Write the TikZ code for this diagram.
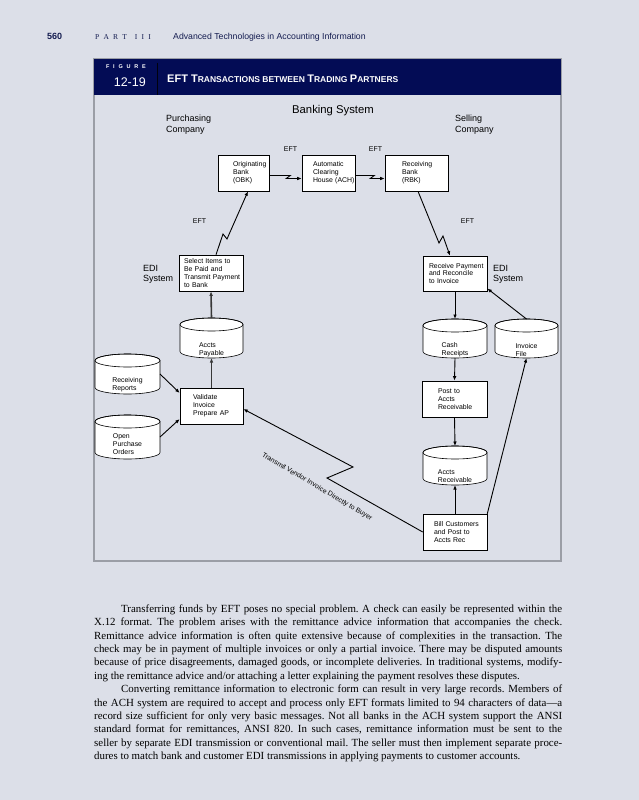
\documentclass[tikz,border=0pt]{standalone}
\usepackage{fontspec}
\setmainfont{Liberation Sans}
\newfontfamily\seriffont{Liberation Serif}
\usetikzlibrary{arrows.meta,calc}
\definecolor{pagebg}{RGB}{220,223,232}
\definecolor{navy}{RGB}{3,12,85}
\definecolor{hdrtext}{RGB}{20,28,80}
\definecolor{framegray}{RGB}{155,158,166}
\newcommand\hbig{\fontsize{11}{12}\selectfont}
\newcommand\hsmall{\fontsize{8.5}{10}\selectfont}
\newcommand\boxfont{\fontsize{6.9}{7.9}\selectfont\hyphenpenalty10000\relax\exhyphenpenalty10000\relax}
\newcommand\bodyfont{\seriffont\fontsize{10.9}{13.4}\selectfont\frenchspacing}
\newcommand\drawcyl[7]{%
  \pgfmathsetmacro\cylcx{(#2+#3)/2}%
  \pgfmathsetmacro\cylrx{(#3-#2)/2}%
  \path[cylline] (#2,#4+6.5) -- (#2,#5-6.5) arc[start angle=180,end angle=360,x radius=\cylrx pt,y radius=6.5pt] -- (#3,#4+6.5) arc[start angle=0,end angle=180,x radius=\cylrx pt,y radius=6.5pt] -- cycle;
  \draw[line width=0.6pt] (\cylcx,#4+6.5) ellipse[x radius=\cylrx pt,y radius=6.5pt];
  \coordinate (#1-t) at (\cylcx,#4);
  \coordinate (#1-b) at (\cylcx,#5);
  \coordinate (#1-r) at (#3,{(#4+#5)/2});
  \node[cyltext] (#1) at (\cylcx,#6) {#7};
}
\begin{document}
\begin{tikzpicture}[x=1pt,y=-1pt,
  box/.style={draw=black,line width=0.6pt,fill=white,inner sep=0pt,align=left,font=\boxfont},
  cyltext/.style={inner sep=0pt,align=left,font=\boxfont},
  cylline/.style={draw=black,line width=0.6pt,fill=white},
  conn/.style={draw=black,line width=0.9pt,-{Latex[length=4.5pt,width=3.6pt]}},
  thickconn/.style={conn,line width=1.6pt,draw=black!78},
  lbl/.style={inner sep=0pt,font=\fontsize{9}{10.5}\selectfont,align=left},
  eft/.style={inner sep=0pt,font=\fontsize{7}{8}\selectfont}]

\useasboundingbox (0,0) rectangle (639,800);
\fill[pagebg] (0,0) rectangle (639,800);

% page header
\node[hdrtext,inner sep=0pt,font=\bfseries\fontsize{9}{10}\selectfont,anchor=base west] (pnum) at (47,40) {560};
\node[hdrtext,inner sep=0pt,font=\seriffont\fontsize{7.5}{9}\selectfont,anchor=base west] (part) at (95,40) {P\kern4.2pt A\kern4.2pt R\kern4.2pt T\kern8pt I\kern4.2pt I\kern4.2pt I};
\node[hdrtext,inner sep=0pt,font=\fontsize{8.7}{10}\selectfont,anchor=base west] (chap) at (173,40) {Advanced Technologies in Accounting Information};

% figure frame
\draw[framegray,line width=1.4pt] (94,59) rectangle (561,561);
\fill[navy] (94,59) rectangle (561,94.5);
\draw[black!85!navy,line width=0.8pt] (157,63) -- (157,94.5);
\node[white,inner sep=0pt,font=\bfseries\fontsize{5.5}{6}\selectfont,anchor=base east] (figw) at (146,69) {F\kern3.8pt I\kern3.8pt G\kern3.8pt U\kern3.8pt R\kern3.8pt E};
\node[white,inner sep=0pt,font=\fontsize{12.5}{13}\selectfont,anchor=base east] (fignum) at (146,86) {12-19};
\node[white,inner sep=0pt,font=\bfseries,anchor=base west] (title) at (167,82) {\hbig EFT T\hsmall RANSACTIONS BETWEEN \hbig T\hsmall RADING \hbig P\hsmall ARTNERS};

% labels
\node[inner sep=0pt,font=\fontsize{11.3}{12}\selectfont] (bank) at (333,110.5) {Banking System};
\node[lbl,anchor=west] (pc) at (166,124.5) {Purchasing\\Company};
\node[lbl,anchor=west] (sc) at (455,124.5) {Selling\\Company};
\node[lbl,anchor=west] (edil) at (143,274.5) {EDI\\System};
\node[lbl,anchor=west] (edir) at (493,274.5) {EDI\\System};
\node[eft] (eft1) at (290.5,149) {EFT};
\node[eft] (eft2) at (375.5,149) {EFT};
\node[eft] (eft3) at (199.5,221.5) {EFT};
\node[eft] (eft4) at (467.5,221.5) {EFT};

% boxes
\node[box,minimum width=51pt,minimum height=36pt,text width=21pt] (obk) at (243.5,173) {Originating\\Bank\\(OBK)};
\node[box,minimum width=53pt,minimum height=36pt,text width=31pt] (ach) at (328.5,173) {Automatic\\Clearing\\House~(ACH)};
\node[box,minimum width=63pt,minimum height=36pt,text width=29pt] (rbk) at (416.5,173) {Receiving\\Bank\\(RBK)};
\node[box,minimum width=64pt,minimum height=36pt,text width=54pt] (sel) at (211,273) {Select~Items~to\\Be~Paid~and\\Transmit~Payment\\to~Bank};
\node[box,minimum width=63pt,minimum height=36pt,text width=37pt] (val) at (211.5,406) {Validate\\Invoice\\Prepare~AP};
\node[box,minimum width=64pt,minimum height=35pt,text width=52pt] (rec) at (455,273.5) {Receive~Payment\\and~Reconcile\\to~Invoice};
\node[box,minimum width=65pt,minimum height=36pt,text width=33pt] (post) at (454.5,399) {Post~to\\Accts\\Receivable};
\node[box,minimum width=64pt,minimum height=36pt,text width=42pt] (bill) at (455,532) {Bill~Customers\\and~Post~to\\Accts~Rec};

% cylinders
\drawcyl{ap}{180}{243}{318}{358}{349.5}{Accts\\Payable}
\drawcyl{rr}{95}{160}{354}{394}{385}{Receiving\\Reports}
\drawcyl{opo}{95}{160}{415}{459}{444.5}{Open\\Purchase\\Orders}
\drawcyl{cr}{423}{487}{319}{358}{350}{Cash\\Receipts}
\drawcyl{inv}{495}{558}{319}{358}{350}{Invoice\\File}
\drawcyl{ar}{423}{487}{446}{485}{476}{Accts\\Receivable}

% connectors
\draw[conn] ($(obk.east)+(0,2.5)$) -- ++(21,0) -- ++(-4,3) -- ($(ach.west)+(0,5.5)$);
\draw[conn] ($(ach.east)+(0,2.5)$) -- ++(19,0) -- ++(-4,3) -- ($(rbk.west)+(0,5.5)$);
\draw[conn] ($(sel.north)+(5,0)$) -- (223,234) -- (227,239) -- ($(obk.south)+(4.5,0)$);
\draw[conn] ($(rbk.south)+(1.5,0)$) -- (439,243) -- (443,236) -- ($(rec.north)+(-5,0)$);
\draw[thickconn] (ap-t) -- (sel.south);
\draw[thickconn] (val.north) -- (ap-b);
\draw[conn] (rr-r) -- ($(val.west)+(0,-13)$);
\draw[conn] (opo-r) -- ($(val.west)+(0,13)$);
\draw[conn] (bill.west) -- (327,478) -- (353,467) -- ($(val.east)+(0,3)$);
\draw[conn] (rec.south) -- (cr-t);
\draw[conn] (inv-t) -- ($(rec.east)+(0,15)$);
\draw[conn] (bill.north east) -- (inv-b);
\draw[conn] (cr-b) -- (post.north);
\draw[conn] (post.south) -- (ar-t);
\draw[conn] (bill.north) -- (ar-b);

\node[inner sep=0pt,font=\fontsize{6.9}{8}\selectfont,rotate=-30.5] (tvi) at (317,487) {Transmit Vendor Invoice Directly to Buyer};

% body text
\node[anchor=north west,inner sep=0pt,text width=468pt,align=justify,font=\bodyfont] (body) at (94,604.5) {%
\hspace*{27pt}Transferring funds by EFT poses no special problem. A check can easily be represented within the\linebreak
X.12 format. The problem arises with the remittance advice information that accompanies the check.\linebreak
Remittance advice information is often quite extensive because of complexities in the transaction. The\linebreak
check may be in payment of multiple invoices or only a partial invoice. There may be disputed amounts\linebreak
because of price disagreements, damaged goods, or incomplete deliveries. In traditional systems, modify-\linebreak
ing the remittance advice and/or attaching a letter explaining the payment resolves these disputes.\\
\hspace*{27pt}Converting remittance information to electronic form can result in very large records. Members of\linebreak
the ACH system are required to accept and process only EFT formats limited to 94 characters of data—a\linebreak
record size sufficient for only very basic messages. Not all banks in the ACH system support the ANSI\linebreak
standard format for remittances, ANSI 820. In such cases, remittance information must be sent to the\linebreak
seller by separate EDI transmission or conventional mail. The seller must then implement separate proce-\linebreak
dures to match bank and customer EDI transmissions in applying payments to customer accounts.};
\end{tikzpicture}
\end{document}
